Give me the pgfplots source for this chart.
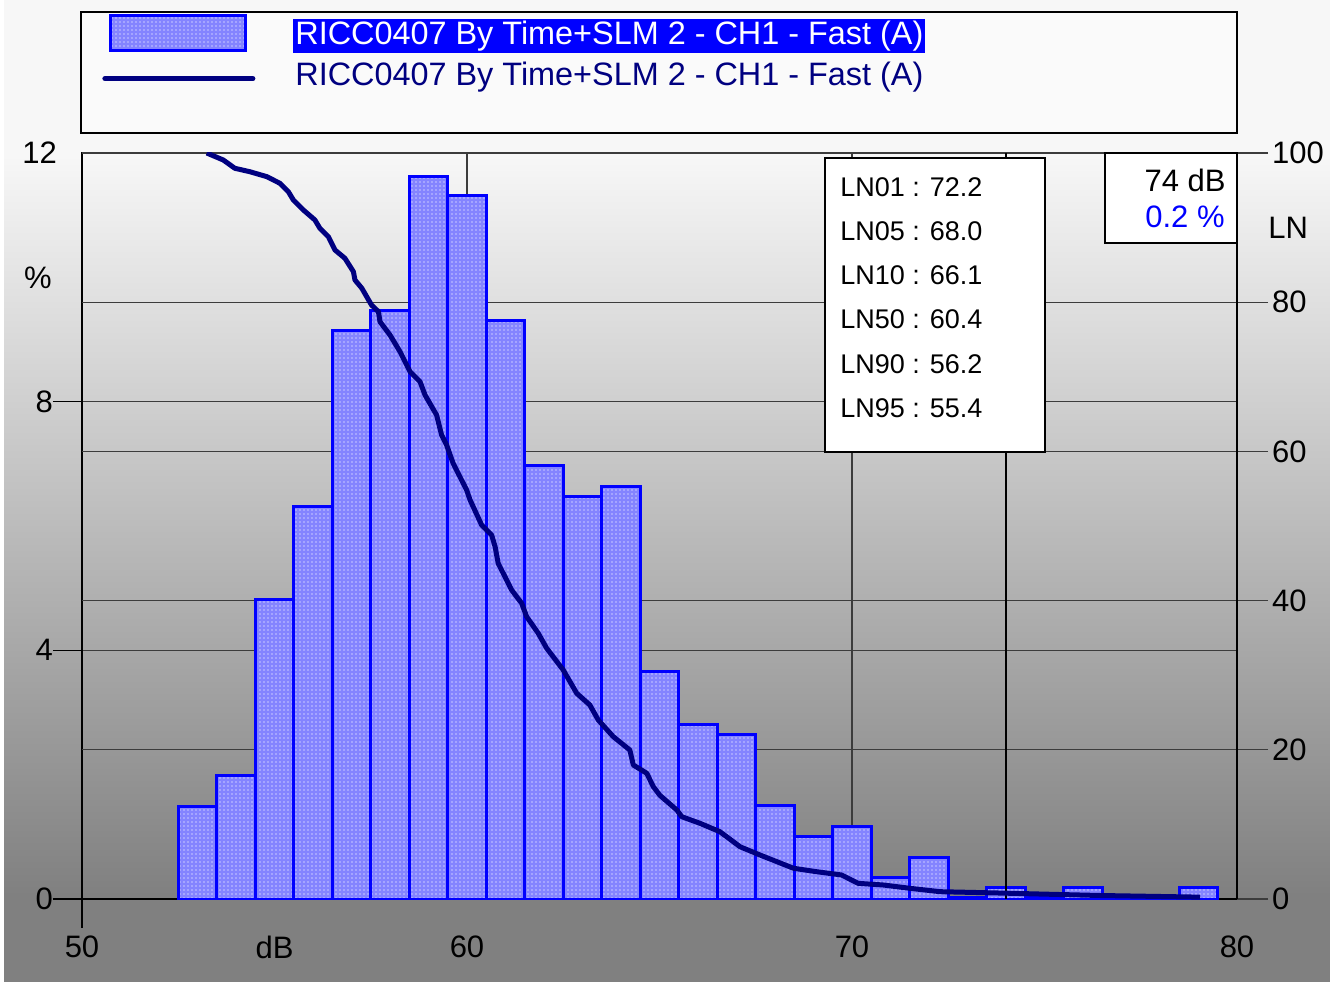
\documentclass[border=0pt]{standalone}
\usepackage{pgfplots}
\pgfplotsset{compat=1.18}
\usetikzlibrary{patterns.meta}
\usepackage{fontspec}
\setmainfont{Liberation Sans}
\definecolor{barfill}{RGB}{132,132,255}
\definecolor{dotc}{RGB}{200,200,255}
\definecolor{navyline}{RGB}{0,0,128}
\definecolor{barblue}{RGB}{0,0,255}
\definecolor{gridc}{RGB}{60,60,60}
\pgfplotsset{
  every tick label/.append style={font=\fontsize{15.5}{18}\selectfont},
  /pgf/number format/assume math mode=true,
}
\tikzset{barstyle/.style={fill=barfill, draw=barblue, line width=1.5pt,
  postaction={pattern={Dots[distance=2pt, radius=0.45pt]}, pattern color=dotc}}}
\begin{document}
\begin{tikzpicture}
% background
\fill[black!3] (0,0) rectangle (667pt,491pt);
\shade[top color=black!3, bottom color=black!50] (0,41.5pt) rectangle (667pt,414.5pt);
\fill[black!50] (0,0) rectangle (667pt,41.5pt);
\fill[white] (0,0) rectangle (2pt,491pt);
\fill[white] (665pt,0) rectangle (667pt,491pt);
% legend frame
\draw[fill=white!98!black, line width=0.6pt] (40.5pt,424.5pt) rectangle (618.5pt,485pt);

\begin{axis}[
  at={(41pt,41.5pt)}, anchor=south west, scale only axis,
  width=577.5pt, height=373pt,
  xmin=50, xmax=80, ymin=0, ymax=12,
  axis line style={black, line width=0.7pt},
  xtick={50,60,70,80}, xtick style={draw=none},
  xticklabel style={yshift=-0.5pt},
  extra x ticks={55}, extra x tick labels={dB},
  extra x tick style={grid=none, major tick length=0pt, xticklabel style={yshift=-14.5pt}},
  ytick={0,4,8}, ytick pos=left, xtick pos=bottom,
  yticklabel style={xshift=3.5pt},
  extra y ticks={2.4,4.8,7.2,9.6,12}, extra y tick labels={,,,,12},
  extra y tick style={major tick length=0pt, grid=major, yticklabel style={xshift=-12.5pt}},
  tick align=outside, major tick length=14.5pt,
  ytick style={black, line width=0.6pt},
  xmajorgrids, ymajorgrids,
  grid style={gridc, line width=0.6pt},
  clip mode=individual,
]
\addplot[ybar interval, barstyle] coordinates {
(52.5,1.48) (53.5,1.99) (54.5,4.81) (55.5,6.31) (56.5,9.15) (57.5,9.47)
(58.5,11.63) (59.5,11.31) (60.5,9.30) (61.5,6.98) (62.5,6.47) (63.5,6.64)
(64.5,3.66) (65.5,2.81) (66.5,2.65) (67.5,1.50) (68.5,1.00) (69.5,1.16)
(70.5,0.35) (71.5,0.67) (72.5,0.03) (73.5,0.18) (74.5,0.03) (75.5,0.18)
(76.5,0.02) (77.5,0.02) (78.5,0.18) (79.5,0)
};
\addplot[black, line width=0.6pt] coordinates {(74,0) (74,12)};
\draw[black, line width=0.7pt] (rel axis cs:0,0) -- ([yshift=-14.5pt]rel axis cs:0,0);
\node[anchor=east, inner sep=0pt, font=\fontsize{15.5}{18}\selectfont] at (rel axis cs:0,0.8333) [xshift=-15pt] {\%};
\end{axis}

\begin{axis}[
  at={(41pt,41.5pt)}, anchor=south west, scale only axis,
  width=577.5pt, height=373pt,
  xmin=50, xmax=80, ymin=0, ymax=100,
  axis x line=none, axis y line*=right,
  axis line style={black, line width=0.7pt},
  ytick={0,20,40,60,80,100},
  yticklabel style={xshift=-1.5pt},
  tick align=outside, major tick length=15.5pt,
  ytick style={gridc, line width=0.6pt},
  clip mode=individual,
  legend style={at={(axis description cs:0.0173,1.1863)}, anchor=north west,
    draw=none, fill=none, inner sep=0pt, row sep=5pt, column sep=19pt,
    nodes={inner sep=0pt, anchor=west}, font=\fontsize{16.2}{19}\selectfont},
  legend cell align=left,
]
\addlegendimage{legend image code/.code={\draw[barstyle] (3pt,-8.75pt) rectangle (70.5pt,8.75pt);}}
\addlegendentry{\setlength{\fboxsep}{1pt}\colorbox{barblue}{\color{white}\vphantom{()}RICC0407 By Time+SLM 2 - CH1 - Fast (A)}}
\addplot[navyline, line width=2.5pt, line join=round,
  legend image code/.code={\draw[navyline, line width=2.5pt, line cap=round] (0pt,-1.5pt) -- (74pt,-1.5pt);}] coordinates {
(53.24,100) (53.67,99.06) (53.97,97.95) (54.36,97.49) (54.80,96.83) (55.14,95.94)
(55.36,94.81) (55.49,93.70) (55.75,92.36) (56.05,91.02) (56.18,89.90) (56.40,88.78)
(56.57,87.00) (56.83,85.88) (57.05,84.09) (57.09,82.98) (57.27,81.86) (57.52,79.62)
(57.70,78.73) (57.74,77.39) (58.00,75.60) (58.26,73.37) (58.52,70.69) (58.78,69.35)
(58.91,67.56) (59.21,64.88) (59.34,62.2) (59.47,60.86) (59.64,58.40) (59.99,54.83)
(60.08,53.49) (60.38,50.13) (60.64,48.79) (60.73,47.23) (60.81,45.00) (61.16,41.42)
(61.42,39.64) (61.55,37.84) (61.85,35.62) (62.07,33.61) (62.50,30.70) (62.85,27.57)
(63.19,26.01) (63.41,23.99) (63.80,21.76) (64.23,19.97) (64.32,17.96) (64.67,16.85)
(64.84,15.05) (65.01,13.9) (65.45,11.93) (65.58,11.03) (66.05,10.15) (66.57,9.02)
(67.09,7.01) (67.61,5.90) (68.48,4.12) (69.08,3.66) (69.73,3.22) (70.16,2.10)
(70.81,1.88) (71.51,1.43) (72.29,0.98) (73.84,0.80) (76.44,0.47) (79.04,0.25)
};
\addlegendentry{\kern1pt\color{navyline}RICC0407 By Time+SLM 2 - CH1 - Fast (A)}
\node[anchor=west, inner sep=0pt, font=\fontsize{15.5}{18}\selectfont] at (rel axis cs:1,0.9) [xshift=15.5pt] {LN};
\end{axis}

% statistics box and cursor box (pixel coordinates)
\begin{scope}[shift={(0,491pt)}, x=0.5pt, y=-0.5pt]
\draw[fill=white, line width=0.6pt] (825,158) rectangle (1045,452);
\foreach \t [count=\i from 0] in {LN01 : 72.2, LN05 : 68.0, LN10 : 66.1, LN50 : 60.4, LN90 : 56.2, LN95 : 55.4}
  \node[anchor=west, inner sep=0pt, font=\fontsize{13.5}{16}\selectfont] at (840,187+44.2*\i) {\t};
\draw[fill=white, line width=0.6pt] (1105,153) rectangle (1237,243);
\node[anchor=east, inner sep=0pt, font=\fontsize{15.5}{18}\selectfont] at (1226,180) {74 dB};
\node[anchor=east, inner sep=0pt, font=\fontsize{15.5}{18}\selectfont, text=barblue] at (1225,217) {0.2 \%};
\end{scope}
\pgfresetboundingbox
\path (0,0) rectangle (667pt,491pt);
\end{tikzpicture}
\end{document}
